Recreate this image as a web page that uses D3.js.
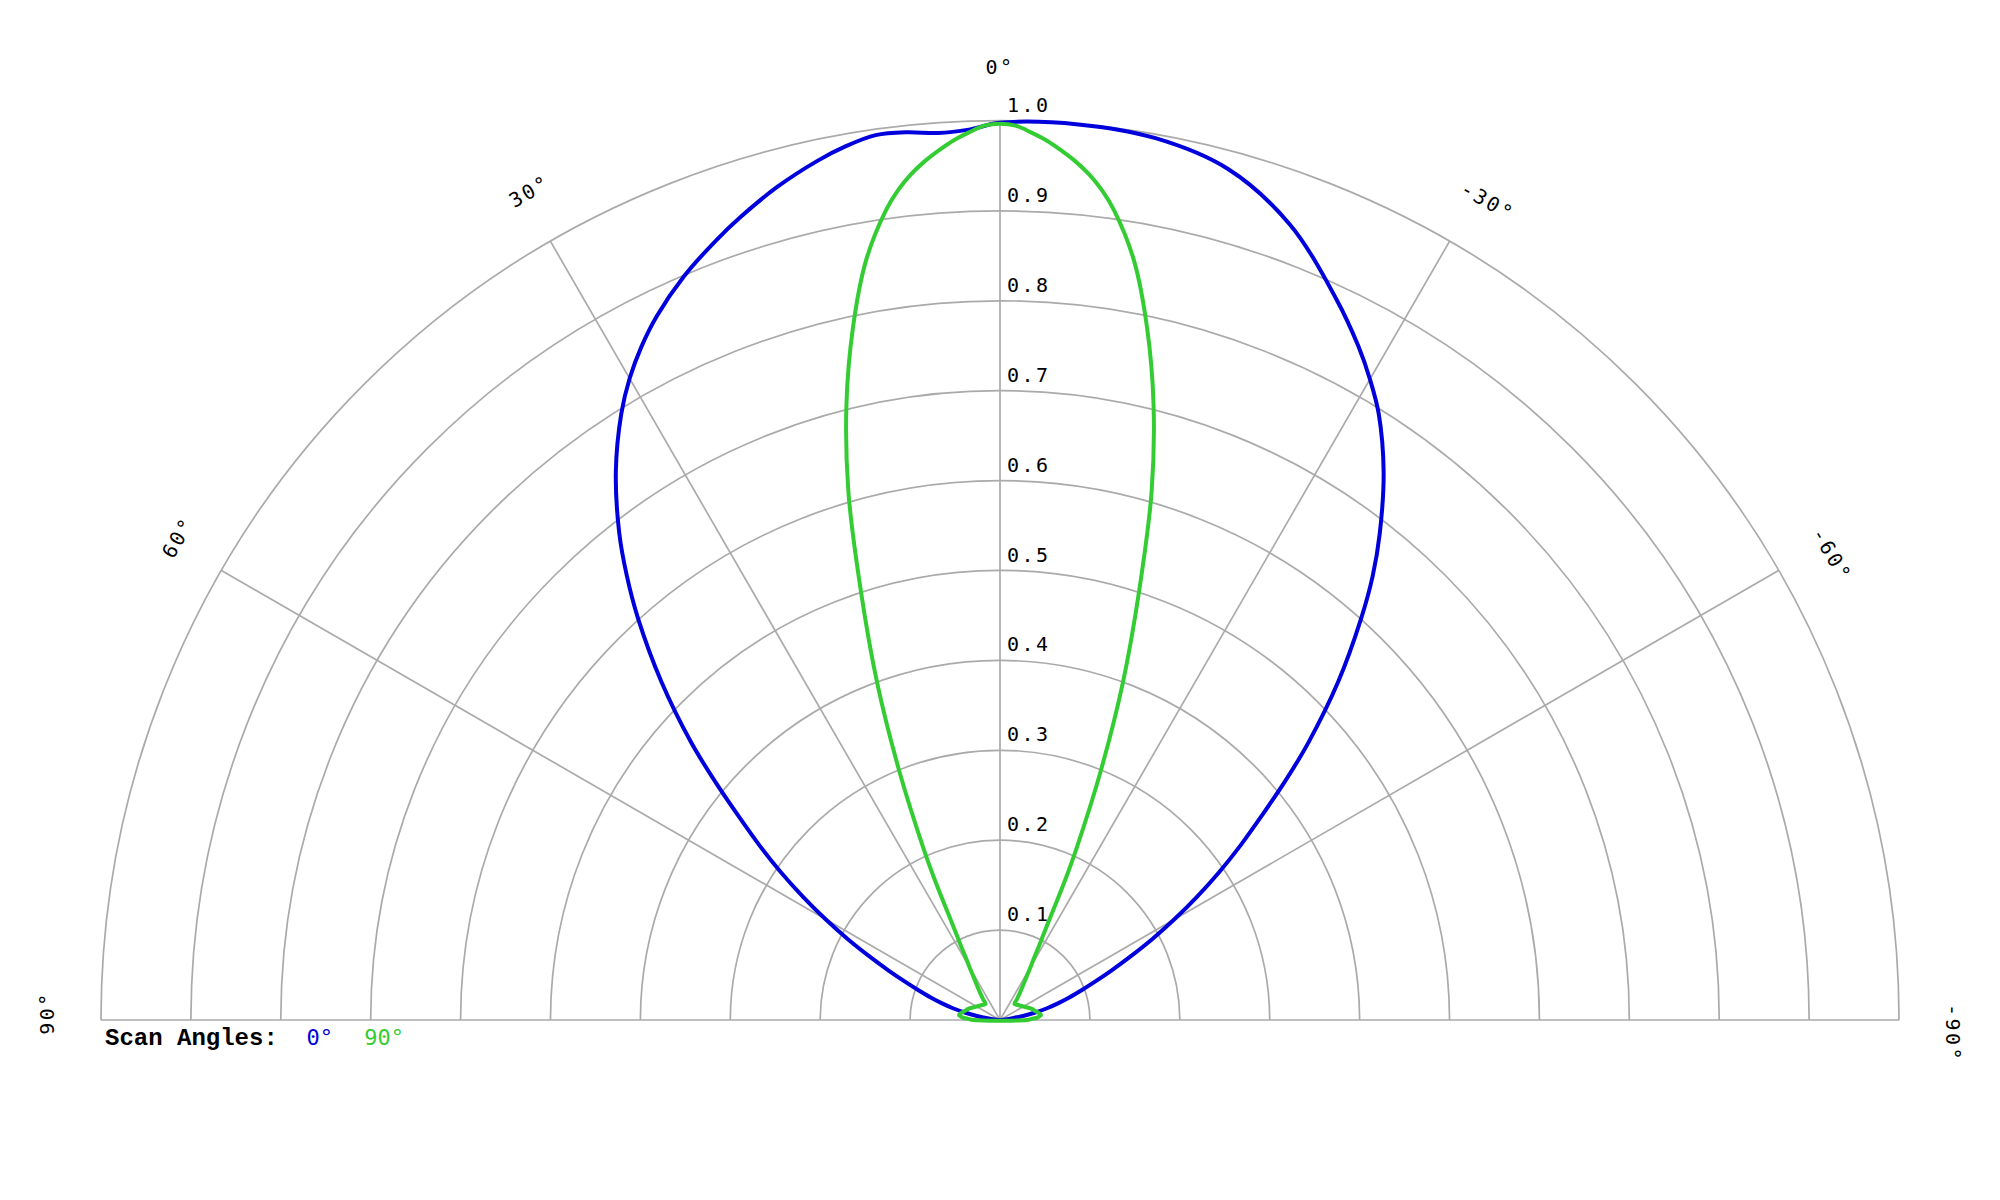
<!DOCTYPE html>
<html>
<head>
<meta charset="utf-8">
<script src="https://cdn.jsdelivr.net/npm/d3@7"></script>
<style>
  html, body { margin: 0; padding: 0; background: #fff; }
  svg { display: block; }
</style>
</head>
<body>
<svg id="chart" width="2000" height="1200"></svg>
<script>
// ---------- data ----------
const ringValues = [0.1, 0.2, 0.3, 0.4, 0.5, 0.6, 0.7, 0.8, 0.9, 1.0];
const ringLabels = ["0.1", "0.2", "0.3", "0.4", "0.5", "0.6", "0.7", "0.8", "0.9", "1.0"];
const spokeAngles = [60, 30, 0, -30, -60];
const angleTickValues = [90, 60, 30, 0, -30, -60, -90];
const angleTickLabels = ["90°", "60°", "30°", "0°", "-30°", "-60°", "-90°"];

const seriesNames = ["0°", "90°"];
const seriesColors = ["#0000dc", "#33cc33"];

// Scan angle 0° (blue): angle in degrees (positive = left), normalized amplitude
const blueAngles = [-90, -87, -84, -82, -80, -78, -76, -74, -72, -70, -68, -66, -64, -62, -60, -58, -56, -54, -52, -50, -48, -45, -42, -40, -38, -35, -32, -30, -28, -25, -20, -15, -10, -5, 0,
                    2, 4, 6, 8, 10, 12, 15, 18, 20, 23, 26, 28, 30, 32, 35, 38, 40, 42, 45, 48, 50, 52, 54, 56, 58, 60, 62, 64, 66, 68, 70, 72, 74, 76, 78, 80, 82, 84, 87, 90];
const blueValues = [0.0, 0.001, 0.006, 0.014, 0.026, 0.04, 0.054, 0.067, 0.081, 0.096, 0.114, 0.136, 0.162, 0.192, 0.224, 0.258, 0.294, 0.331, 0.37, 0.415, 0.462, 0.532, 0.600, 0.645, 0.686, 0.744, 0.795, 0.823, 0.849, 0.885, 0.942, 0.98, 0.996, 1.0, 0.998,
                    0.991, 0.989, 0.993, 0.994, 0.987, 0.977, 0.959, 0.938, 0.923, 0.899, 0.871, 0.849, 0.824, 0.795, 0.745, 0.688, 0.646, 0.602, 0.533, 0.463, 0.415, 0.37, 0.331, 0.294, 0.258, 0.224, 0.192, 0.162, 0.136, 0.114, 0.096, 0.081, 0.067, 0.054, 0.04, 0.026, 0.014, 0.006, 0.001, 0.0];

// Scan angle 90° (green)
const greenAngles = [-90, -88, -86, -83, -80, -75, -70, -60, -50, -42, -39, -36, -34, -32, -30, -29, -28, -27, -26, -25, -24, -22, -20, -18, -16, -14, -12, -10, -8, -7, -6, -5, -4, -3, -2, -1, 0,
                     1, 2, 3, 4, 5, 6, 7, 8, 10, 12, 14, 16, 18, 20, 22, 24, 25, 26, 27, 28, 29, 30, 32, 34, 36, 39, 42, 50, 60, 70, 75, 80, 83, 86, 88, 90];
const greenValues = [0.03, 0.035, 0.042, 0.046, 0.044, 0.04, 0.037, 0.03, 0.026, 0.024, 0.03, 0.038, 0.045, 0.054, 0.068, 0.076, 0.09, 0.106, 0.13, 0.17, 0.21, 0.30, 0.40, 0.50, 0.612, 0.706, 0.787, 0.858, 0.91, 0.93, 0.946, 0.959, 0.97, 0.98, 0.988, 0.995, 0.997,
                     0.995, 0.988, 0.98, 0.97, 0.959, 0.946, 0.93, 0.91, 0.858, 0.787, 0.706, 0.612, 0.50, 0.40, 0.30, 0.21, 0.17, 0.13, 0.106, 0.09, 0.076, 0.068, 0.054, 0.045, 0.038, 0.03, 0.024, 0.026, 0.03, 0.037, 0.04, 0.044, 0.046, 0.042, 0.035, 0.03];

// ---------- layout ----------
const cx = 1000, cy = 1020, R = 899;
const svg = d3.select("#chart");
const g = svg.append("g").attr("transform", `translate(${cx},${cy})`);
const r = d3.scaleLinear().domain([0, 1]).range([0, R]);
const toRad = d => -d * Math.PI / 180;   // positive degrees go to the left

const gridColor = "#aaaaaa";

// rings (upper semicircles)
ringValues.forEach(v => {
  const p = d3.path();
  p.arc(0, 0, r(v), Math.PI, 2 * Math.PI);
  g.append("path").attr("d", p.toString())
    .attr("fill", "none").attr("stroke", gridColor).attr("stroke-width", 1.7);
});
// baseline
g.append("line").attr("x1", -r(1)).attr("x2", r(1)).attr("y1", 0).attr("y2", 0)
  .attr("stroke", gridColor).attr("stroke-width", 1.7);
// spokes
spokeAngles.forEach(a => {
  const t = toRad(a);
  g.append("line").attr("x1", 0).attr("y1", 0)
    .attr("x2", r(1) * Math.sin(t)).attr("y2", -r(1) * Math.cos(t))
    .attr("stroke", gridColor).attr("stroke-width", 1.7);
});

// ring labels
g.selectAll("text.ring").data(ringValues).join("text")
  .attr("class", "ring")
  .attr("x", 7).attr("y", d => -r(d) - 9)
  .attr("font-family", "DejaVu Sans Mono, monospace")
  .attr("font-size", 20).attr("letter-spacing", 2.5)
  .attr("fill", "#000")
  .text((d, i) => ringLabels[i]);

// angle labels
const labelR = 953;
angleTickValues.forEach((a, i) => {
  const t = toRad(a);
  const x = labelR * Math.sin(t), y = -labelR * Math.cos(t);
  const shift = a < 0 ? 13 : (a > 0 ? 7 : 0);
  g.append("text")
    .attr("transform", `translate(${x},${y}) rotate(${-a}) translate(${shift},0)`)
    .attr("text-anchor", "middle").attr("dominant-baseline", "central")
    .attr("font-family", "DejaVu Sans Mono, monospace")
    .attr("font-size", 20).attr("letter-spacing", 2.5)
    .attr("fill", "#000")
    .text(angleTickLabels[i]);
});

// series
const line = d3.lineRadial()
  .angle(d => toRad(d[0]))
  .radius(d => r(d[1]))
  .curve(d3.curveCatmullRomClosed.alpha(0.5));

const series = [
  blueAngles.map((a, i) => [a, blueValues[i]]),
  greenAngles.map((a, i) => [a, greenValues[i]])
];
series.forEach((s, i) => {
  g.append("path").attr("d", line(s))
    .attr("fill", "none").attr("stroke", seriesColors[i]).attr("stroke-width", 4)
    .attr("stroke-linejoin", "round");
});

// legend
const legend = svg.append("text")
  .attr("x", 105).attr("y", 1045)
  .attr("font-family", "Liberation Mono, Courier New, monospace")
  .attr("font-size", 24);
legend.append("tspan").attr("fill", "#000").attr("font-weight", "bold").text("Scan Angles:");
const legendStart = [14, 18];
seriesNames.forEach((n, i) => {
  svg.append("text")
    .attr("x", 105 + legendStart[i] * 14.4).attr("y", 1045)
    .attr("font-family", "DejaVu Sans Mono, monospace")
    .attr("font-size", 22)
    .attr("fill", seriesColors[i])
    .text(n);
});
</script>
</body>
</html>
